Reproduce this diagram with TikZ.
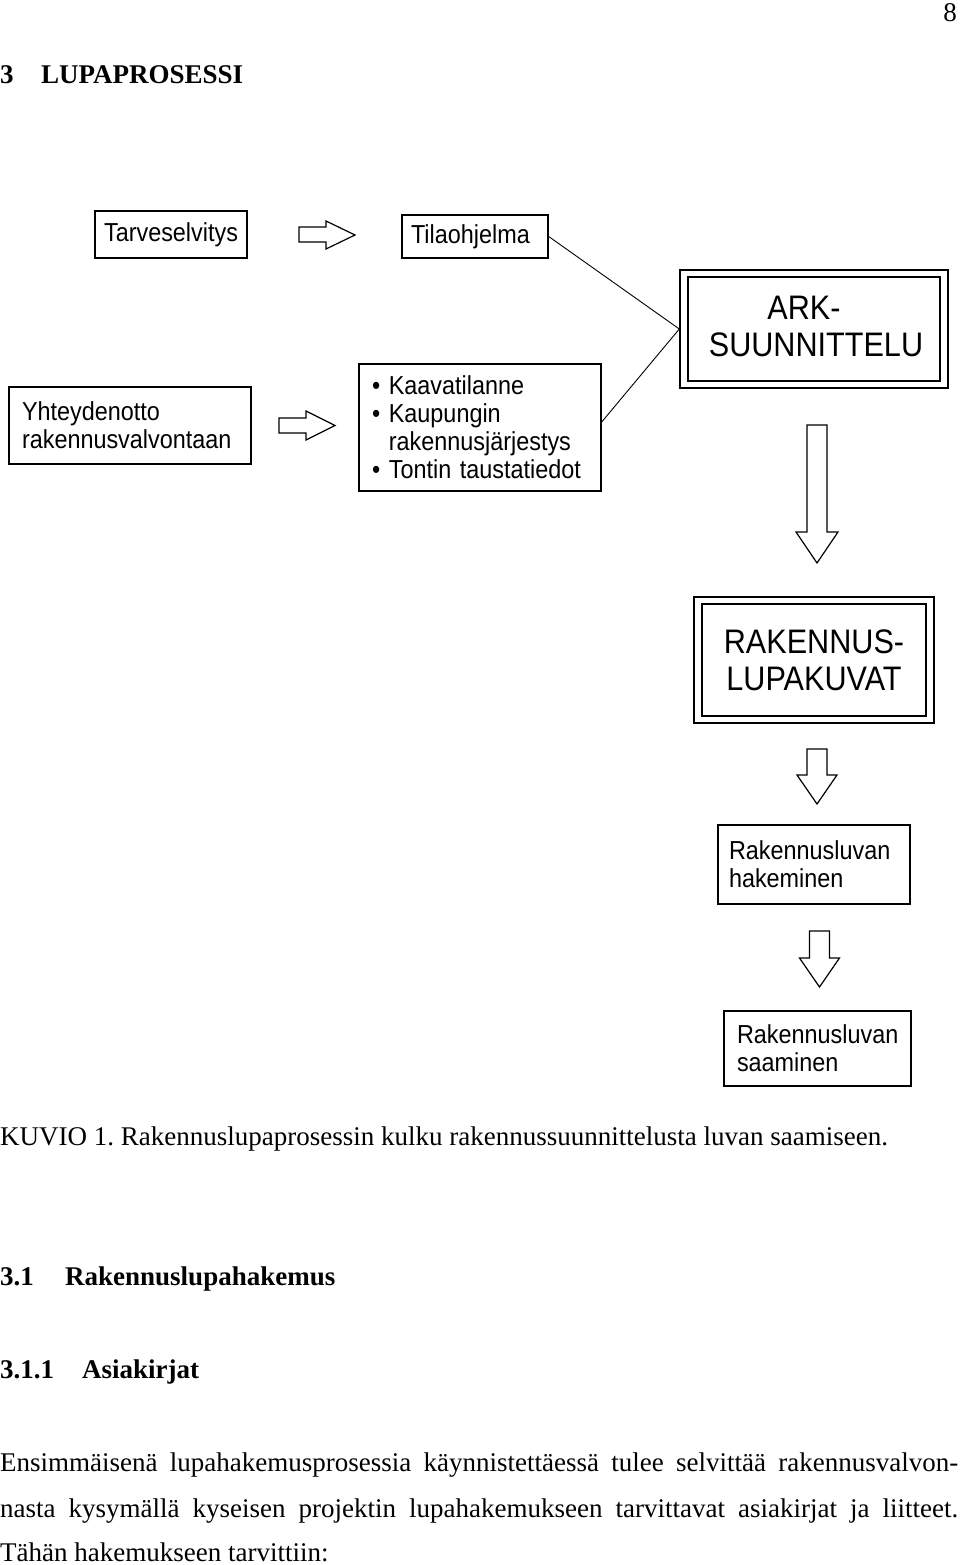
\documentclass[tikz,border=0pt]{standalone}
\usepackage{fontspec}
\setmainfont{Liberation Serif}
\newfontfamily\diagfont[FakeStretch=0.9]{Liberation Sans}
\frenchspacing
\begin{document}
\begin{tikzpicture}[x=1pt,y=-1pt,
  box/.style={draw, line width=1.4pt, inner ysep=0pt, align=left,
    font=\diagfont\fontsize{26}{28}\selectfont},
  bigbox/.style={draw, line width=1.4pt, inner sep=0pt, align=center,
    font=\diagfont\fontsize{34}{37}\selectfont},
  frame/.style={draw, line width=1.4pt, inner sep=0pt},
  harrow/.style={draw, line width=1.2pt, line join=miter, fill=white},
  conn/.style={draw, line width=0.9pt},
  txt/.style={inner sep=0pt, font=\fontsize{27}{32}\selectfont},
  btxt/.style={inner sep=0pt, font=\bfseries\fontsize{27}{32}\selectfont}]
\useasboundingbox (0,0) rectangle (960,1565);

% page number and headings
\node[txt, anchor=base east] (pg) at (957,22) {8};
\node[btxt, anchor=base west] (h3n) at (0,84) {3};
\node[btxt, anchor=base west] (h3t) at (41,84) {LUPAPROSESSI};

% diagram boxes
\node[box, inner xsep=0pt, text width=152pt, align=center, minimum height=47pt] (tarve) at (171,234.5) {Tarveselvitys};
\node[box, inner xsep=9pt, text width=128pt, minimum height=43pt] (tila) at (475,236.5) {Tilaohjelma};
\node[box, inner xsep=13pt, text width=216pt, minimum height=77pt] (yht) at (130,425.5) {Yhteydenotto\\rakennusvalvontaan};
\node[box, inner xsep=13pt, text width=216pt, minimum height=127pt] (bul) at (480,427.5)
  {• Kaavatilanne\\• Kaupungin\\\phantom{•\ }rakennusjärjestys\\• Tontin taustatiedot};

\node[frame, minimum width=268pt, minimum height=118pt] (arkout) at (814,329) {};
\node[frame, minimum width=252pt, minimum height=104pt] (ark) at (814,329) {};
\node[inner sep=0pt, align=center, font=\diagfont\fontsize{34}{37}\selectfont] (arktxt) at (816,326) {ARK-\hspace*{24pt}\\SUUNNITTELU};

\node[frame, minimum width=240pt, minimum height=126pt] (rakout) at (814,660) {};
\node[bigbox, minimum width=224pt, minimum height=112pt] (rak) at (814,660) {RAKENNUS-\\LUPAKUVAT};

\node[box, inner xsep=11pt, text width=170pt, minimum height=79pt] (hak) at (814,864.5) {Rakennusluvan\\hakeminen};
\node[box, inner xsep=13pt, text width=161pt, minimum height=75pt] (saa) at (817.5,1048.5) {Rakennusluvan\\saaminen};

% connectors
\draw[conn] (tila.east) -- (arkout.west);
\draw[conn] ([yshift=5.5pt]bul.east) -- (arkout.west);

% hollow block arrows
\draw[harrow] (299,227) -- (326,227) -- (326,221) -- (355,235) -- (326,249) -- (326,242) -- (299,242) -- cycle;
\draw[harrow] (279,418) -- (306,418) -- (306,411) -- (335,425.5) -- (306,440) -- (306,433) -- (279,433) -- cycle;
\draw[harrow] (807,425) -- (827,425) -- (827,532) -- (838,532) -- (817,563) -- (796,532) -- (807,532) -- cycle;
\draw[harrow] (807,749) -- (827,749) -- (827,775) -- (837,775) -- (817,804) -- (797,775) -- (807,775) -- cycle;
\draw[harrow] (809.5,931) -- (829.5,931) -- (829.5,958) -- (839.5,958) -- (819.5,987) -- (799.5,958) -- (809.5,958) -- cycle;

% caption and text
\node[txt, anchor=base west] (cap) at (0,1145) {KUVIO 1. Rakennuslupaprosessin kulku rakennussuunnittelusta luvan saamiseen.};
\node[btxt, anchor=base west] (h31n) at (0,1285) {3.1};
\node[btxt, anchor=base west] (h31t) at (65,1285) {Rakennuslupahakemus};
\node[btxt, anchor=base west] (h311n) at (0,1378) {3.1.1};
\node[btxt, anchor=base west] (h311t) at (82,1378) {Asiakirjat};
\node[txt, anchor=base west] (p1) at (0,1471) {\makebox[958pt][s]{Ensimmäisenä lupahakemusprosessia käynnistettäessä tulee selvittää rakennusvalvon-}};
\node[txt, anchor=base west] (p2) at (0,1517) {\makebox[958pt][s]{nasta kysymällä kyseisen projektin lupahakemukseen tarvittavat asiakirjat ja liitteet.}};
\node[txt, anchor=base west] (p3) at (0,1561) {Tähän hakemukseen tarvittiin:};
\end{tikzpicture}
\end{document}
